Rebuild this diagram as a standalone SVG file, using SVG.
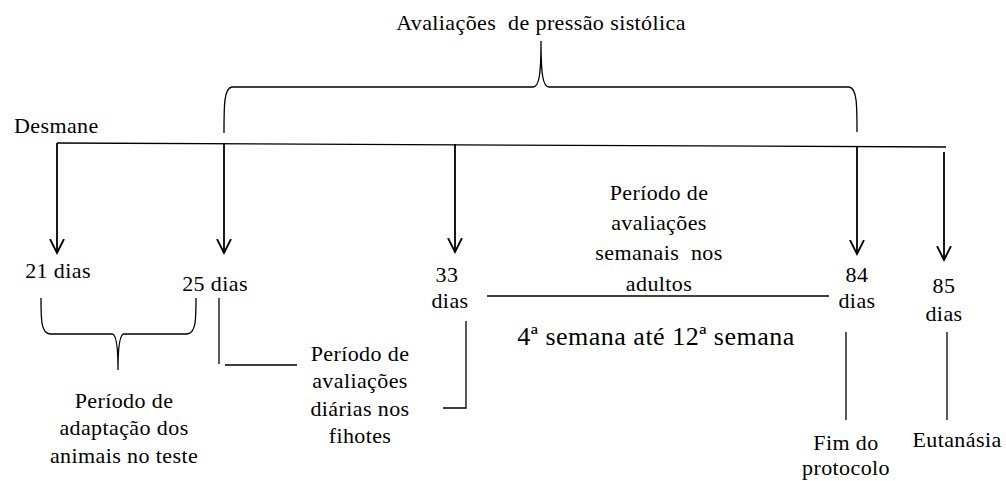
<svg xmlns="http://www.w3.org/2000/svg" width="1006" height="481" viewBox="0 0 1006 481">
<style>
text{font-size:22px;fill:#000;letter-spacing:0.4px;white-space:pre}
.m{text-anchor:middle}
.ln{fill:none;stroke:#000;stroke-width:1.3}
.ar{fill:none;stroke:#000;stroke-width:1.8}
</style>
<defs>
<marker id="arr" viewBox="0 0 16 16" markerUnits="userSpaceOnUse" markerWidth="16" markerHeight="16" refX="14" refY="8" orient="auto">
<path d="M0,1 L14,8 L0,15" fill="none" stroke="#000" stroke-width="1.8"/>
</marker>
</defs>
<rect width="1006" height="481" fill="#fff"/>
<g id="connectors">
<path class="ln" d="M224,133 C224,105 224,88 232,87 L533,87 C539,87 541,75 541,41 C541,75 543,87 549,87 L849,87 C857,88 857,105 857,132"/>
<path class="ln" d="M57,143 L946,147"/>
<path class="ar" d="M57,143 V253" marker-end="url(#arr)"/>
<path class="ar" d="M224,143 V253" marker-end="url(#arr)"/>
<path class="ar" d="M455,144 V252" marker-end="url(#arr)"/>
<path class="ar" d="M857,146 V254" marker-end="url(#arr)"/>
<path class="ar" d="M944,152 V260" marker-end="url(#arr)"/>
<path class="ln" d="M41,298 C41,320 41,333 50,334 L112,334 C116,334 118,345 118,370 C118,345 120,334 124,334 L187,334 C196,333 196,320 196,298"/>
<path class="ln" d="M219,298 V364 M225,365 H297"/>
<path class="ln" d="M466,321 V408 H443"/>
<path class="ln" d="M487,296 H829"/>
<path class="ln" d="M846,332 V420 M947,332 V420"/>
</g>
<g font-family="Liberation Serif, Times New Roman, serif">
<g id="title"><text class="m" x="541" y="30">Avaliações  de pressão sistólica</text></g>
<g id="desmane"><text x="14" y="133">Desmane</text></g>
<g id="d21"><text class="m" x="58" y="278">21 dias</text></g>
<g id="d25"><text class="m" x="215" y="291">25 dias</text></g>
<g id="d33"><text class="m" x="447" y="282">33</text><text class="m" x="450" y="308">dias</text></g>
<g id="d84"><text class="m" x="857" y="282">84</text><text class="m" x="857" y="308">dias</text></g>
<g id="d85"><text class="m" x="944" y="293">85</text><text class="m" x="944" y="321">dias</text></g>
<g id="semanais">
<text class="m" x="659" y="200">Período de</text>
<text class="m" x="659" y="230">avaliações</text>
<text class="m" x="659" y="260">semanais  nos</text>
<text class="m" x="659" y="291">adultos</text>
</g>
<g id="semanas"><text class="m" x="656" y="345" style="font-size:26px;letter-spacing:0.5px">4ª semana até 12ª semana</text></g>
<g id="diarias">
<text class="m" x="360" y="361">Período de</text>
<text class="m" x="360" y="388">avaliações</text>
<text class="m" x="360" y="416">diárias nos</text>
<text class="m" x="360" y="443">fihotes</text>
</g>
<g id="adaptacao">
<text class="m" x="124" y="408">Período de</text>
<text class="m" x="124" y="435">adaptação dos</text>
<text class="m" x="124" y="463">animais no teste</text>
</g>
<g id="fim"><text class="m" x="846" y="450">Fim do</text><text class="m" x="846" y="475">protocolo</text></g>
<g id="eutanasia"><text class="m" x="957" y="447">Eutanásia</text></g>
</g>
</svg>
